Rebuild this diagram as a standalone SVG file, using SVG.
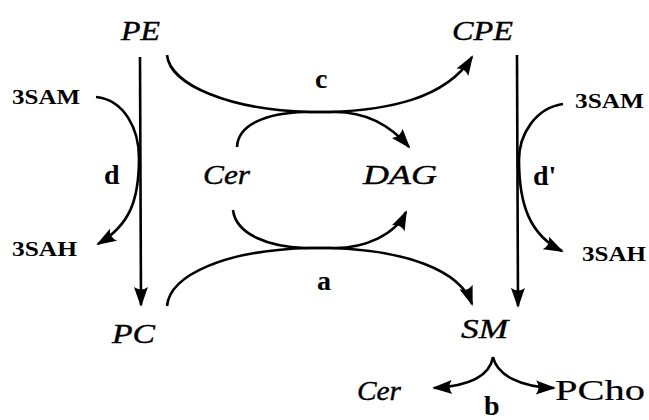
<svg xmlns="http://www.w3.org/2000/svg" width="649" height="420" viewBox="0 0 649 420">
  <defs>
    <style>
      .it { font-family: "Liberation Serif", "Times New Roman", serif; font-style: italic; font-size: 28px; fill: #000; stroke: #000; stroke-width: 0.4; }
      .up { font-family: "Liberation Serif", "Times New Roman", serif; font-size: 30px; fill: #000; stroke: #000; stroke-width: 0.2; }
      .lbl { font-family: "Liberation Serif", "Times New Roman", serif; font-weight: bold; font-size: 28px; fill: #000; }
      .sm { font-family: "Liberation Serif", "Times New Roman", serif; font-weight: bold; font-size: 21px; fill: #000; }
      .arr { fill: none; stroke: #000; stroke-width: 2.6; stroke-linecap: butt; marker-end: url(#head); }
    </style>
    <!-- filled arrowhead with a slightly hollow back -->
    <marker id="head" viewBox="-21 -8 23 16" markerUnits="userSpaceOnUse" markerWidth="23" markerHeight="16" refX="-2" refY="0" orient="auto">
      <path d="M0,0 L-20,-7 Q-15,0 -20,7 Z" fill="#000"/>
    </marker>
  </defs>

  <rect width="649" height="420" fill="#fff"/>

  <!-- reaction arrows -->
  <g id="connectors">
    <!-- d: PE to PC, with 3SAM in and 3SAH out -->
    <path class="arr" d="M140,57 L141,305"/>
    <path class="arr" d="M96,97 C125,100 139,130 139,158 C139,200 130,225 98,244"/>
    <!-- d': CPE to SM -->
    <path class="arr" d="M517,55 L518,306"/>
    <path class="arr" d="M563,104 C535,108 519,135 519,160 C519,205 530,235 562,251"/>
    <!-- c: PE + Cer to CPE + DAG -->
    <path class="arr" d="M167,55 C170,85 230,110 310,112 L330,112 C385,110 445,100 472,57"/>
    <path class="arr" d="M237,147 C238,125 265,113 305,112 L335,112 C365,112 390,125 409,147"/>
    <!-- a: PC + Cer to SM + DAG -->
    <path class="arr" d="M167,306 C170,275 225,250 310,248 L330,248 C405,250 460,270 472,304"/>
    <path class="arr" d="M233,210 C236,235 270,247 305,248 L335,248 C365,248 395,235 406,212"/>
    <!-- b: SM to Cer + PCho -->
    <path class="arr" d="M493,357 C490,375 470,386 434,388"/>
    <path class="arr" d="M493,357 C497,375 520,387 554,388"/>
  </g>

  <g id="node-PE"><text class="it" x="121" y="40" textLength="39" lengthAdjust="spacingAndGlyphs">PE</text></g>
  <g id="node-CPE"><text class="it" x="452" y="40" textLength="61" lengthAdjust="spacingAndGlyphs">CPE</text></g>
  <g id="node-Cer"><text class="it" x="203" y="184" textLength="47" lengthAdjust="spacingAndGlyphs">Cer</text></g>
  <g id="node-DAG"><text class="it" x="363" y="184" textLength="74" lengthAdjust="spacingAndGlyphs">DAG</text></g>
  <g id="node-PC"><text class="it" x="112" y="343" textLength="43" lengthAdjust="spacingAndGlyphs">PC</text></g>
  <g id="node-SM"><text class="it" x="461" y="338" textLength="47" lengthAdjust="spacingAndGlyphs">SM</text></g>
  <g id="node-Cer2"><text class="it" x="357" y="400" textLength="44" lengthAdjust="spacingAndGlyphs">Cer</text></g>
  <g id="node-PCho"><text class="up" x="555" y="400" textLength="90" lengthAdjust="spacingAndGlyphs">PCho</text></g>

  <g id="node-3SAM-left"><text class="sm" x="12" y="104" textLength="68" lengthAdjust="spacingAndGlyphs">3SAM</text></g>
  <g id="node-3SAH-left"><text class="sm" x="12" y="256" textLength="65" lengthAdjust="spacingAndGlyphs">3SAH</text></g>
  <g id="node-3SAM-right"><text class="sm" x="575" y="108" textLength="69" lengthAdjust="spacingAndGlyphs">3SAM</text></g>
  <g id="node-3SAH-right"><text class="sm" x="582" y="261" textLength="64" lengthAdjust="spacingAndGlyphs">3SAH</text></g>

  <g id="labels">
    <text class="lbl" x="315" y="88">c</text>
    <text class="lbl" x="317" y="290">a</text>
    <text class="lbl" x="484" y="415">b</text>
    <text class="lbl" x="104" y="184">d</text>
    <text class="lbl" x="533" y="185">d'</text>
  </g>
</svg>
